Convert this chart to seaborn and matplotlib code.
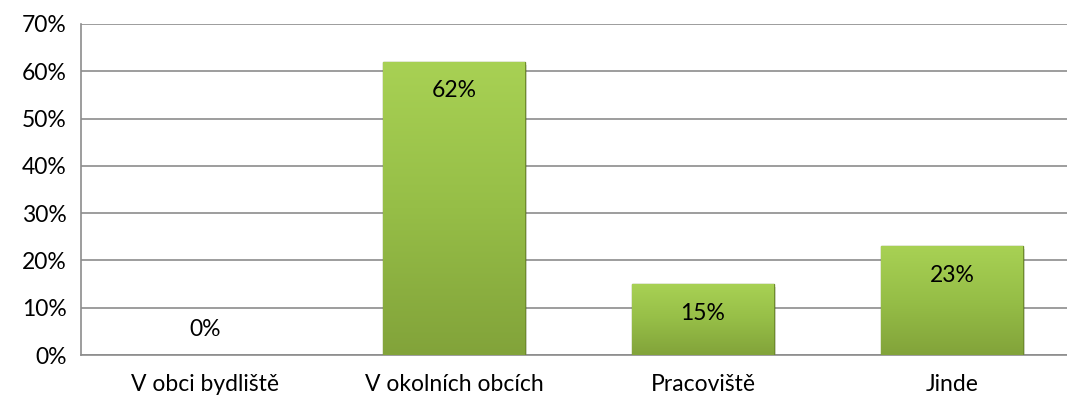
import numpy as np
import pandas as pd
import matplotlib
matplotlib.use("Agg")
import matplotlib.pyplot as plt
import seaborn as sns
from matplotlib.colors import LinearSegmentedColormap
from matplotlib.ticker import FuncFormatter, MultipleLocator

categories = ["V obci bydliště", "V okolních obcích", "Pracoviště", "Jinde"]
values = [0, 62, 15, 23]
value_labels = ["0%", "62%", "15%", "23%"]

sns.set_theme(style="white")
plt.rcParams['font.family'] = ['Lato', 'DejaVu Sans']

df = pd.DataFrame({"cat": categories, "val": values})

fig = plt.figure(figsize=(10.67, 4.03), dpi=100)
ax = fig.add_axes([80.5/1067, 1-355/403, 996/1067, (355-24)/403])

sns.barplot(data=df, x="cat", y="val", ax=ax, color="#98c045", width=0.57,
            edgecolor="#6f8c2c", linewidth=1.0, zorder=3)

ax.set_ylim(0, 70)
ax.set_xlim(-0.5, 3.5)
ax.yaxis.set_major_locator(MultipleLocator(10))
ax.yaxis.set_major_formatter(FuncFormatter(lambda v, p: f"{v:.0f}%"))
ax.grid(axis="y", color="#8c8c8c", linewidth=1.2, zorder=0)
ax.set_axisbelow(True)
for s in ["top", "right"]:
    ax.spines[s].set_visible(False)
ax.spines["left"].set_color("#8c8c8c")
ax.spines["bottom"].set_color("#8c8c8c")
ax.spines["left"].set_linewidth(1.2)
ax.spines["bottom"].set_linewidth(1.2)
ax.set_xlabel("")
ax.set_ylabel("")
FS = 16.5
ax.tick_params(axis="y", labelsize=FS, colors="#000000", length=0, pad=10)
ax.tick_params(axis="x", labelsize=FS, colors="#000000", length=0, pad=14)

# gradient fill
cmap = LinearSegmentedColormap.from_list("g", ["#82a33a", "#96be47", "#a8d154"])
grad = np.linspace(0, 1, 256).reshape(-1, 1)
for patch in ax.patches:
    x0, y0 = patch.get_x(), patch.get_y()
    w, h = patch.get_width(), patch.get_height()
    if h <= 0:
        patch.set_visible(False)
        continue
    im = ax.imshow(grad, extent=[x0, x0 + w, y0, y0 + h], origin="lower",
                   cmap=cmap, aspect="auto", zorder=3.5)
    im.set_clip_path(patch)
    # shadow
    ax.add_patch(plt.Rectangle((x0 + 0.01, y0 - 0.6), w, h, color="#000000",
                               alpha=0.12, zorder=2.5, linewidth=0))
ax.set_xlim(-0.5, 3.5)
ax.set_ylim(0, 70)

# value labels
px_per_unit = (355 - 24) / 70
for i, (v, lab) in enumerate(zip(values, value_labels)):
    if v > 0:
        y = v - 29 / px_per_unit
    else:
        y = 25 / px_per_unit
    ax.text(i, y, lab, ha="center", va="center", fontsize=FS, color="#000000", zorder=5)

fig.savefig("out.png", dpi=100)
